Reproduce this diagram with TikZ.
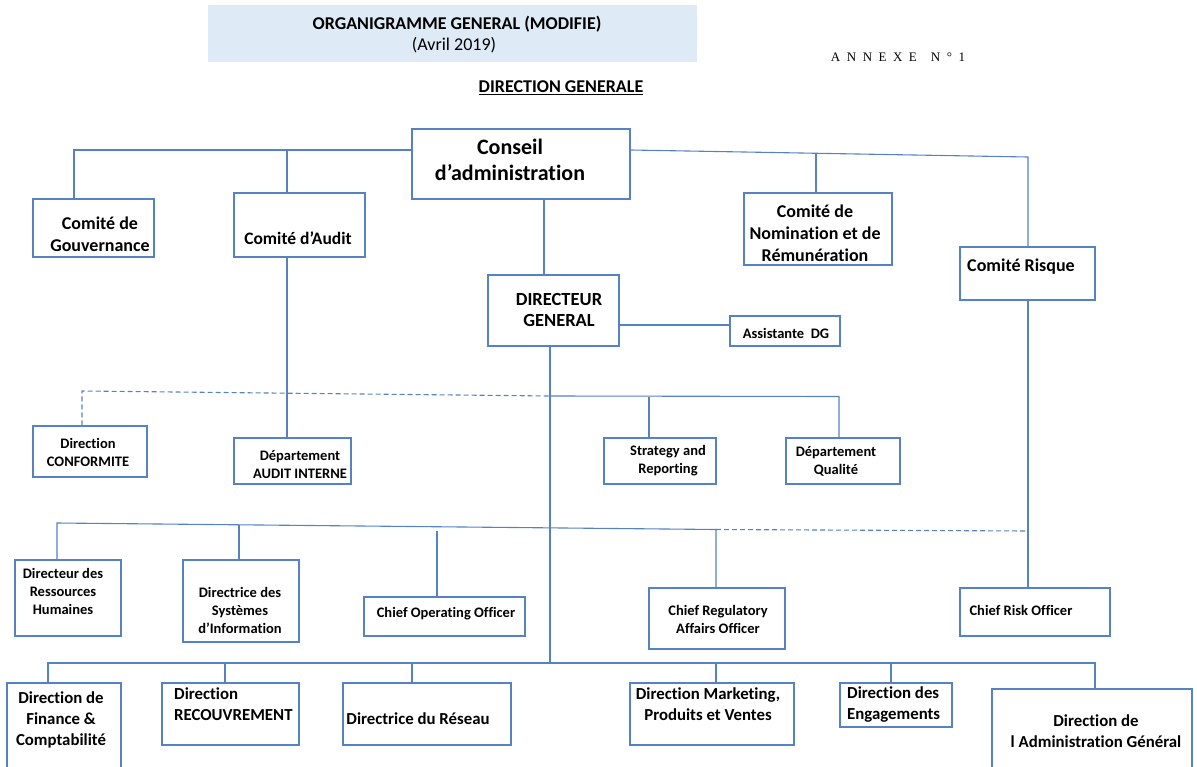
\documentclass[tikz,border=0pt]{standalone}
\usepackage{fontspec}
\setmainfont{Carlito}[Ligatures=NoCommon]
\newfontfamily\annexfont{Liberation Serif}
\definecolor{lc}{RGB}{84,130,196}
\definecolor{titlefill}{RGB}{222,234,246}
\tikzset{
  ln/.style={draw=lc, line width=1.1pt},
  dsh/.style={draw=lc, line width=1.1pt, dash pattern=on 5pt off 3pt},
  orgbox/.style={draw=lc, line width=1.3pt, rectangle, inner sep=0pt, fill=white},
  tbig/.style={font=\bfseries\fontsize{22}{26}\selectfont, align=center, inner sep=0pt},
  tcom/.style={font=\bfseries\fontsize{18}{22}\selectfont, align=center, inner sep=0pt},
  tdg/.style={font=\bfseries\fontsize{18.5}{21}\selectfont, align=center, inner sep=0pt},
  tsm/.style={font=\bfseries\fontsize{14.5}{18}\selectfont, align=center, inner sep=0pt},
  tbot/.style={font=\bfseries\fontsize{16.8}{21}\selectfont, align=center, inner sep=0pt},
}
\newcommand\mkbox[5]{\node[orgbox, minimum width={#4-#2}, minimum height={#5-#3}] (#1) at ({(#2+#4)/2},{(#3+#5)/2}) {};}
\begin{document}
\begin{tikzpicture}[x=1pt,y=-1pt]
\useasboundingbox (0,0) rectangle (1197,766);
\clip (0,0) rectangle (1197,766);
% title
\node[fill=titlefill, minimum width=489, minimum height=57, inner sep=0pt] (title) at (452.5,33.5) {};
\node[font=\bfseries\fontsize{18}{21}\selectfont, inner sep=0pt] (title-a) at (457,24) {ORGANIGRAMME GENERAL (MODIFIE)};
\node[font=\fontsize{18}{21}\selectfont, inner sep=0pt] (title-b) at (454,45) {(Avril 2019)};
\node[font=\annexfont\fontsize{13}{14}\selectfont, inner sep=0pt] (annexe) at (898,57) {A\hspace{6.5pt}N\hspace{6.5pt}N\hspace{6.5pt}E\hspace{6.5pt}X\hspace{6.5pt}E\hspace{14pt}N\hspace{6.5pt}°\hspace{6.5pt}1};
\node[font=\bfseries\fontsize{18}{20}\selectfont, inner sep=0pt] (dirgen) at (561,88) {\underline{DIRECTION GENERALE}};

% boxes
\mkbox{conseil}{412}{129}{630}{199}
\node[tbig] (conseil-t) at (510,160) {Conseil\\d’administration};
\mkbox{gouv}{33}{199}{154}{257}
\node[tcom] (gouv-t) at (100,234) {Comité de\\Gouvernance};
\mkbox{audit}{234}{193}{365}{257}
\node[tcom, font=\bfseries\fontsize{17.5}{22}\selectfont] (audit-t) at (298,238) {Comité d’Audit};
\mkbox{nomin}{744}{193}{892}{265}
\node[tcom] (nomin-t) at (815,233) {Comité de\\Nomination et de\\Rémunération};
\mkbox{risque}{960}{247}{1095}{300}
\node[tcom] (risque-t) at (1021,267) {Comité Risque};
\mkbox{dg}{488}{275}{619}{346}
\node[tdg] (dg-t) at (559,310) {DIRECTEUR\\GENERAL};
\mkbox{assist}{730}{316}{840}{346}
\node[tsm] (assist-t) at (786,333) {Assistante \ DG};

\mkbox{conf}{33}{426}{147}{477}
\node[tsm] (conf-t) at (88,452) {Direction\\CONFORMITE};
\mkbox{auditint}{234}{438}{351}{484}
\node[tsm] (auditint-t) at (300,465) {Département\\AUDIT INTERNE};
\mkbox{strat}{604}{438}{716}{484}
\node[tsm] (strat-t) at (668,461) {Strategy and\\Reporting};
\mkbox{qual}{786}{438}{900}{484}
\node[tsm] (qual-t) at (836,461) {Département\\Qualité};

\mkbox{rh}{15}{560}{121}{636}
\node[tsm] (rh-t) at (63,591) {Directeur des\\Ressources\\Humaines};
\mkbox{si}{183}{560}{299}{642}
\node[tsm] (si-t) at (240,610) {Directrice des\\Systèmes\\d’Information};
\mkbox{coo}{364}{597}{525}{636}
\node[tsm] (coo-t) at (446,614) {Chief Operating Officer};
\mkbox{crao}{649}{588}{785}{649}
\node[tsm] (crao-t) at (718,619) {Chief Regulatory\\Affairs Officer};
\mkbox{cro}{960}{588}{1110}{636}
\node[tsm] (cro-t) at (1021,610) {Chief Risk Officer};

\mkbox{fin}{7}{683}{121}{775}
\node[tbot] (fin-t) at (61,720) {Direction de\\Finance \&\\Comptabilité};
\mkbox{recouv}{162}{683}{299}{745}
\node[tbot, align=left, anchor=west] (recouv-t) at (174,704.5) {Direction\\RECOUVREMENT};
\mkbox{reseau}{343}{683}{511}{745}
\node[tbot] (reseau-t) at (418,719) {Directrice du Réseau};
\mkbox{mkt}{630}{683}{794}{745}
\node[tbot] (mkt-t) at (708,704.5) {Direction Marketing,\\Produits et Ventes};
\mkbox{eng}{840}{683}{952}{727}
\node[tbot, align=left, anchor=west] (eng-t) at (847,704.5) {Direction des\\Engagements};
\mkbox{admin}{992}{689}{1192}{775}
\node[tbot] (admin-t) at (1096,731) {Direction de\\l Administration Général};

% junction coordinates
\coordinate (jTL) at (74,150);
\coordinate (jA) at (287,150);
\coordinate (jTR) at (1028,157);
\coordinate (jN) at (816,153.5);
\coordinate (xCD) at (544,0);
\coordinate (yA) at (0,325);
\coordinate (jD) at (82,391);
\coordinate (jDG1) at (550,396);
\coordinate (jS) at (649,396.5);
\coordinate (jQ) at (839,396.5);
\coordinate (jB2L) at (57,523);
\coordinate (jSI) at (239,525);
\coordinate (jCOO) at (437,531);
\coordinate (jCR) at (716,529.5);
\coordinate (jB2R) at (1028,531);
\coordinate (jB3L) at (48,663);
\coordinate (jB3R) at (1095,663);
\coordinate (jDGb) at (550,663);
\coordinate (jRec) at (225,663);
\coordinate (jRes) at (412,663);
\coordinate (jMkt) at (716,663);
\coordinate (jEng) at (891,663);

% connectors
\draw[ln] (conseil.west |- jTL) -- (jTL) -- (jTL |- gouv.north);
\draw[ln] (jA) -- (jA |- audit.north);
\draw[ln] (conseil.east |- jTL) -- (jTR) -- (jTR |- risque.north);
\draw[ln] (jN) -- (jN |- nomin.north);
\draw[ln] (conseil.south -| xCD) -- (dg.north -| xCD);
\draw[ln] (dg.east |- yA) -- (assist.west |- yA);
\draw[ln] (dg.south -| jDGb) -- (jDGb);
\draw[dsh] (jD |- conf.north) -- (jD) -- (jDG1);
\draw[ln] (jDG1) -- (jQ) -- (jQ |- qual.north);
\draw[ln] (jS) -- (jS |- strat.north);
\draw[ln] (audit.south -| jA) -- (auditint.north -| jA);
\draw[ln] (risque.south -| jTR) -- (cro.north -| jTR);
\draw[ln] (jB2L |- rh.north) -- (jB2L) -- (jCR) -- (jCR |- crao.north);
\draw[dsh] (jCR) -- (jB2R);
\draw[ln] (jSI) -- (jSI |- si.north);
\draw[ln] (jCOO) -- (jCOO |- coo.north);
\draw[ln] (jB3L |- fin.north) -- (jB3L) -- (jB3R) -- (jB3R |- admin.north);
\draw[ln] (jRec) -- (jRec |- recouv.north);
\draw[ln] (jRes) -- (jRes |- reseau.north);
\draw[ln] (jMkt) -- (jMkt |- mkt.north);
\draw[ln] (jEng) -- (jEng |- eng.north);
\end{tikzpicture}
\end{document}
